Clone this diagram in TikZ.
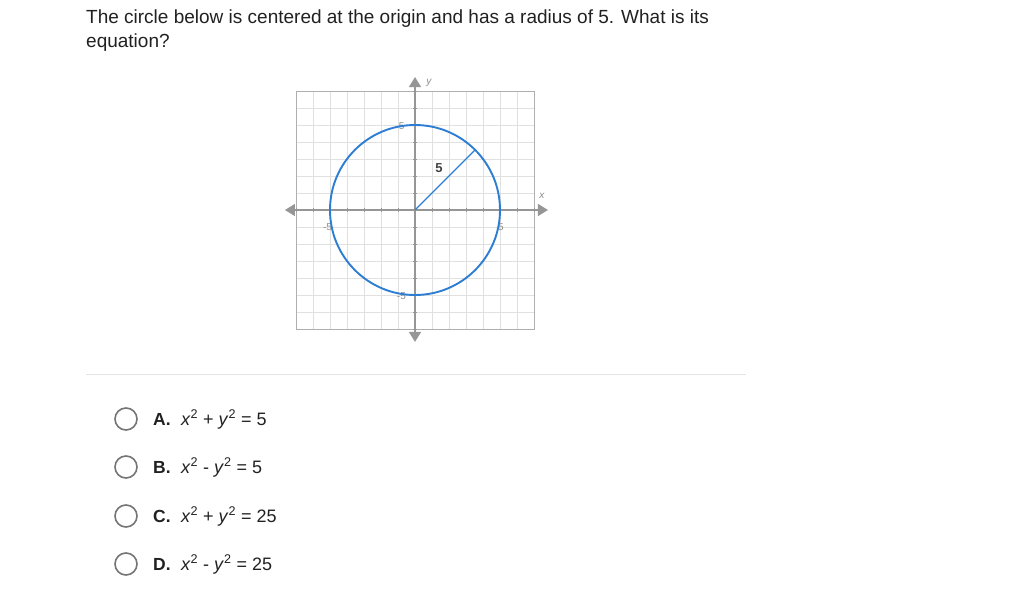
\documentclass[tikz,border=0pt]{standalone}
\usepackage{fontspec}
\setmainfont{Liberation Sans}
\usetikzlibrary{arrows.meta}
\usetikzlibrary{positioning}
\definecolor{gridgray}{RGB}{224, 224, 224}
\definecolor{boxgray}{RGB}{175, 175, 175}
\definecolor{axisgray}{RGB}{150, 150, 150}
\definecolor{labelgray}{RGB}{140, 140, 140}
\definecolor{circleblue}{RGB}{45, 125, 210}
\definecolor{textgray}{RGB}{33, 33, 33}
\definecolor{radiogray}{RGB}{117, 117, 117}
\definecolor{rulegray}{RGB}{228, 228, 228}

\tikzset{
    radio/.style={circle, draw=radiogray, line width=1.6pt, minimum size=22pt, inner sep=0pt},
    letter/.style={font=\fontsize{17.5}{20}\selectfont\bfseries, text=textgray, anchor=base west, inner sep=0pt},
    answer/.style={font=\fontsize{18}{20}\selectfont, text=textgray, anchor=base west, inner sep=0pt},
    ticklabel/.style={font=\fontsize{10}{11}\selectfont, text=labelgray, inner sep=0pt},
    axis/.style={draw=axisgray, line width=1.3pt, {Triangle[length=10pt,width=12pt]}-{Triangle[length=10pt,width=12pt]}}
}
\newcommand{\xsq}{\textit{x}\textsuperscript{2}}
\newcommand{\ysq}{\textit{y}\textsuperscript{2}}

\begin{document}
\begin{tikzpicture}[x=1pt, y=-1pt]
        \useasboundingbox[fill=white] (0,0) rectangle (1023,597);
        % question text
        \node[anchor=base west, inner sep=0pt, align=left, text=textgray,
              font=\fontsize{19}{23.5}\selectfont] (question) at (86,47)
             {The circle below is centered at the origin and has a radius of 5. What is its\\equation?};
        % graph
        \begin{scope}[shift={(415,210)}, x=17pt, y=17pt]
            \draw[gridgray, line width=0.8pt, step=1]                 (-7,-7) grid (7,7);
            \draw[boxgray, line width=1pt]                            (-7,-7) rectangle (7,7);
            \draw[axis]                                               (-7.65,0) -- (7.82,0);
            \draw[axis]                                               (0,-7.76) -- (0,7.82);
            \draw[axisgray, line width=1pt]
                 (-7,-0.12) -- (-7,0.12) (-6,-0.12) -- (-6,0.12) (-5,-0.12) -- (-5,0.12) (-4,-0.12) -- (-4,0.12)
                 (-3,-0.12) -- (-3,0.12) (-2,-0.12) -- (-2,0.12) (-1,-0.12) -- (-1,0.12) ( 1,-0.12) -- ( 1,0.12)
                 ( 2,-0.12) -- ( 2,0.12) ( 3,-0.12) -- ( 3,0.12) ( 4,-0.12) -- ( 4,0.12) ( 5,-0.12) -- ( 5,0.12)
                 ( 6,-0.12) -- ( 6,0.12) ( 7,-0.12) -- ( 7,0.12);
            \draw[axisgray, line width=1pt]
                 (-0.12,-7) -- (0.12,-7) (-0.12,-6) -- (0.12,-6) (-0.12,-5) -- (0.12,-5) (-0.12,-4) -- (0.12,-4)
                 (-0.12,-3) -- (0.12,-3) (-0.12,-2) -- (0.12,-2) (-0.12,-1) -- (0.12,-1) (-0.12, 1) -- (0.12, 1)
                 (-0.12, 2) -- (0.12, 2) (-0.12, 3) -- (0.12, 3) (-0.12, 4) -- (0.12, 4) (-0.12, 5) -- (0.12, 5)
                 (-0.12, 6) -- (0.12, 6) (-0.12, 7) -- (0.12, 7);
            \node[ticklabel, font=\fontsize{10}{11}\selectfont\itshape] (ylabel) at (0.82, 7.47) {y};
            \node[ticklabel, font=\fontsize{10}{11}\selectfont\itshape] (xlabel) at (7.47, 0.82) {x};
            \node[ticklabel] (ytop)    at (-0.78, 4.95) {5};
            \node[ticklabel] (ybottom) at (-0.80,-5.08) {-5};
            \node[ticklabel] (xleft)   at (-5.15,-1.00) {-5};
            \node[ticklabel] (xright)  at ( 5.06,-1.00) {5};
            \coordinate (origin) at (0,0);
            \coordinate (rim)    at (45:5);
            \draw[circleblue, line width=1.9pt]                        (origin) circle (5);
            \draw[circleblue, line width=1.3pt]                        (origin) -- (rim);
            \node[font=\fontsize{13}{15}\selectfont\bfseries, text=textgray!85, inner sep=0pt] (radius) at (1.41, 2.47) {5};
        \end{scope}
        % separator
        \coordinate (ruleleft)  at (86,374);
        \coordinate (ruleright) at (746,374);
        \draw[rulegray, line width=1pt] (ruleleft) -- (ruleright);
        % answer choices
        \node[radio] (radioA) at (126,419) {};
        \node[radio] (radioB) at (126,467) {};
        \node[radio] (radioC) at (126,516) {};
        \node[radio] (radioD) at (126,564) {};
        \node[letter] (letterA) at (153,425) {A.};
        \node[letter] (letterB) at (153,473) {B.};
        \node[letter] (letterC) at (153,522) {C.};
        \node[letter] (letterD) at (153,570) {D.};
        \node[answer] (answerA) at (181,425) {\xsq{} + \ysq{} = 5};
        \node[answer] (answerB) at (181,473) {\xsq{} - \ysq{} = 5};
        \node[answer] (answerC) at (181,522) {\xsq{} + \ysq{} = 25};
        \node[answer] (answerD) at (181,570) {\xsq{} - \ysq{} = 25};
\end{tikzpicture}
\end{document}
